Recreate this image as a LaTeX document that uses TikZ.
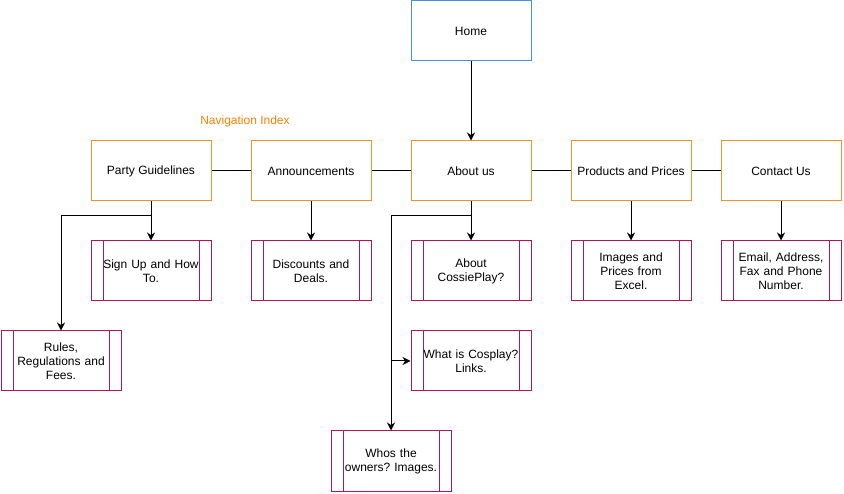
\documentclass[tikz,border=0pt]{standalone}
\usepackage{fontspec}
\setmainfont{Liberation Sans}
\frenchspacing
\usetikzlibrary{arrows.meta,calc}
\definecolor{borange}{HTML}{F0932E}
\definecolor{torange}{HTML}{FF8000}
\definecolor{bcrimson}{HTML}{B3155C}
\definecolor{bblue}{HTML}{4A90E2}
\tikzset{
  base/.style={minimum width=120pt, minimum height=60pt, inner sep=0pt, line width=1pt,
    font=\fontsize{12}{14}\selectfont, align=center, fill=white},
  homebox/.style={base, draw=bblue},
  topbox/.style={base, draw=borange},
  subbox/.style={base, draw=bcrimson, text width=100pt,
    path picture={
      \draw[bcrimson, line width=1pt]
        ([xshift=12pt]path picture bounding box.north west) -- ([xshift=12pt]path picture bounding box.south west)
        ([xshift=-12pt]path picture bounding box.north east) -- ([xshift=-12pt]path picture bounding box.south east);
    }},
  link/.style={line width=1pt, draw=black},
  arr/.style={link, -{Stealth[length=8pt,width=8pt,inset=2.5pt]}},
}
\begin{document}
\begin{tikzpicture}[x=1pt,y=-1pt]
\useasboundingbox (0,0) rectangle (844,494);
% nodes
\node[homebox] (home) at (471,31) {Home};
\node[font=\fontsize{12}{14}\selectfont, text=torange] (nav) at (245,121) {Navigation Index};
\node[topbox] (pg) at (151,171) {Party Guidelines};
\node[topbox] (an) at (311,171) {Announcements};
\node[topbox] (ab) at (471,171) {About us};
\node[topbox] (pp) at (631,171) {Products and Prices};
\node[topbox] (cu) at (781,171) {Contact Us};
\node[subbox] (su) at (151,271) {Sign Up and How\\To.};
\node[subbox] (dd) at (311,271) {Discounts and\\Deals.};
\node[subbox] (ac) at (471,271) {About\\CossiePlay?};
\node[subbox] (ip) at (631,271) {Images and\\Prices from\\Excel.};
\node[subbox] (em) at (781,271) {Email, Address,\\Fax and Phone\\Number.};
\node[subbox] (ru) at (61,361) {Rules,\\Regulations and\\Fees.};
\node[subbox] (wc) at (471,361) {What is Cosplay?\\Links.};
\node[subbox] (wo) at (391,461) {Whos the\\owners? Images.};
% connectors
\draw[arr] (home) -- (ab);
\draw[link] (pg) -- (an);
\draw[link] (an) -- (ab);
\draw[link] (ab) -- (pp);
\draw[link] (pp) -- (cu);
\draw[arr] (pg) -- (su);
\draw[arr] (pg.south) -- ++(0,14) -| (ru.north);
\draw[arr] (an) -- (dd);
\draw[arr] (ab) -- (ac);
\draw[arr] (ab.south) -- ++(0,14) -| (wo.north);
\coordinate (br) at (wo.north |- wc.west);
\draw[arr] (br) -- (wc.west);
\draw[arr] (pp) -- (ip);
\draw[arr] (cu) -- (em);
\end{tikzpicture}
\end{document}
